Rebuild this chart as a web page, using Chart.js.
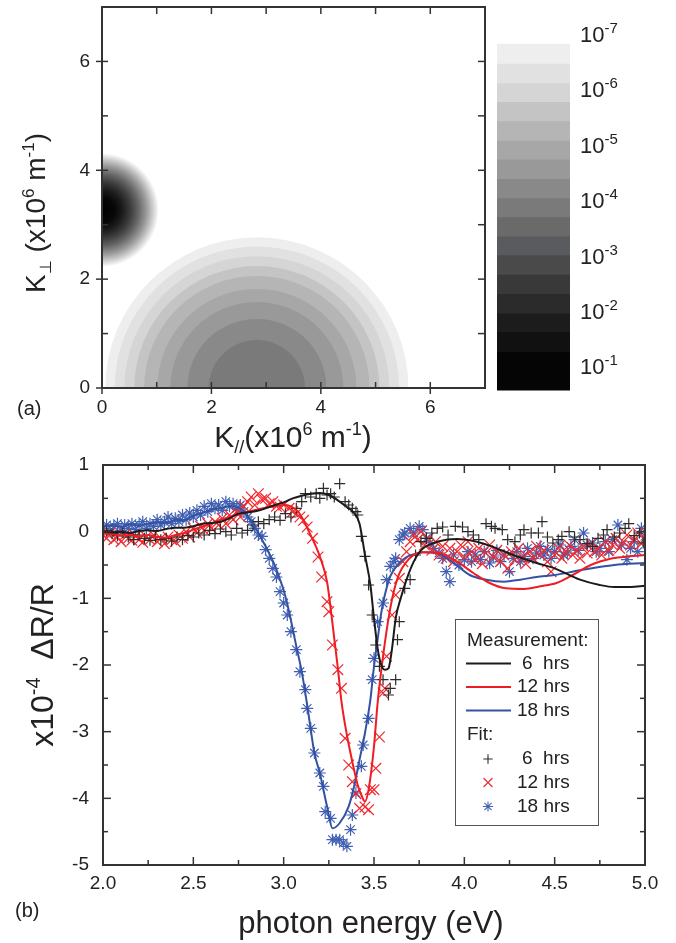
<!DOCTYPE html>
<html lang="en">
<head>
<meta charset="UTF-8">
<title>k-space map and differential reflectance</title>
<script src="https://cdn.jsdelivr.net/npm/chart.js"></script>
<style>
  body { margin: 0; background: #fff; }
  #page { position: relative; width: 676px; height: 943px; overflow: hidden; }
  #page canvas { position: absolute; }
</style>
</head>
<body>
<div id="page">
  <canvas id="map" width="490" height="460" style="left:0;top:0"></canvas>
  <canvas id="bar" width="196" height="400" style="left:480px;top:0"></canvas>
  <canvas id="spec" width="676" height="493" style="left:0;top:450px"></canvas>
</div>
<script>
// ---------- (a) k-space map, units x10^6 m^-1 ----------
const lobeCentre = [2.83, 0];
const lobeRadii = [2.77, 2.60, 2.42, 2.24, 2.06, 1.82, 1.58, 1.27, 0.88];
const lobeLevels = [0, 1, 2, 3, 4, 5, 6, 7, 8];      // colour-bar band of each ring
const spotCentre = [0, 3.27];
const spotRadius = 1.04;

// colour bar: band edges as log10 exponents, top to bottom
const barEdges = [-6.82, -6.47, -6.12, -5.78, -5.43, -5.08, -4.74, -4.39, -4.04,
                  -3.70, -3.35, -3.01, -2.66, -2.31, -1.96, -1.62, -1.26, -0.57];
const barDecades = [-7, -6, -5, -4, -3, -2, -1];

// ---------- (b) x10^-4 dR/R vs photon energy (eV) ----------
const meas6 = [[2.00,0.00],[2.05,-0.01],[2.10,0.00],[2.15,-0.02],[2.20,0.01],[2.25,0.02],[2.30,0.01],[2.35,0.04],
  [2.40,0.06],[2.45,0.06],[2.50,0.08],[2.55,0.12],[2.60,0.13],[2.65,0.15],[2.70,0.20],[2.75,0.27],[2.80,0.29],
  [2.85,0.31],[2.90,0.35],[2.95,0.40],[3.00,0.44],[3.05,0.50],[3.10,0.54],[3.15,0.57],[3.20,0.58],[3.25,0.55],
  [3.30,0.47],[3.35,0.37],[3.39,0.28],[3.42,0.12],[3.45,-0.35],[3.48,-0.80],[3.50,-1.30],[3.52,-1.75],[3.54,-2.00],
  [3.56,-2.07],[3.58,-2.05],[3.60,-1.75],[3.62,-1.30],[3.65,-0.98],[3.68,-0.72],[3.72,-0.45],[3.76,-0.28],
  [3.83,-0.17],[3.90,-0.12],[3.96,-0.11],[4.05,-0.14],[4.15,-0.22],[4.27,-0.35],[4.40,-0.47],[4.50,-0.55],
  [4.64,-0.72],[4.75,-0.80],[4.83,-0.83],[4.92,-0.83],[5.00,-0.81]];
const meas12 = [[2.00,-0.03],[2.05,-0.04],[2.10,-0.06],[2.15,-0.05],[2.20,-0.07],[2.25,-0.05],[2.30,-0.08],
  [2.35,-0.09],[2.40,-0.05],[2.45,-0.02],[2.50,0.03],[2.55,0.08],[2.60,0.12],[2.65,0.18],[2.70,0.22],[2.75,0.27],
  [2.80,0.30],[2.85,0.33],[2.90,0.36],[2.95,0.38],[3.00,0.40],[3.04,0.38],[3.08,0.30],[3.11,0.17],[3.14,0.00],
  [3.17,-0.17],[3.20,-0.37],[3.24,-0.75],[3.26,-1.15],[3.28,-1.60],[3.30,-2.05],[3.32,-2.55],[3.35,-3.05],
  [3.38,-3.45],[3.41,-3.80],[3.43,-3.95],[3.45,-4.05],[3.47,-3.87],[3.50,-3.22],[3.52,-2.57],[3.55,-1.87],
  [3.59,-1.15],[3.63,-0.70],[3.69,-0.42],[3.77,-0.31],[3.86,-0.32],[3.96,-0.45],[4.05,-0.62],[4.14,-0.77],
  [4.23,-0.85],[4.33,-0.86],[4.42,-0.82],[4.51,-0.77],[4.60,-0.65],[4.70,-0.50],[4.82,-0.40],[4.91,-0.37],[5.00,-0.35]];
const meas18 = [[2.00,0.08],[2.05,0.10],[2.10,0.07],[2.15,0.11],[2.20,0.09],[2.25,0.12],[2.30,0.14],[2.35,0.13],
  [2.40,0.18],[2.45,0.17],[2.50,0.24],[2.55,0.28],[2.60,0.33],[2.65,0.35],[2.70,0.38],[2.75,0.36],[2.78,0.30],
  [2.81,0.20],[2.85,0.03],[2.88,-0.12],[2.91,-0.27],[2.95,-0.50],[2.98,-0.72],[3.00,-0.88],[3.03,-1.20],
  [3.07,-1.72],[3.10,-2.10],[3.13,-2.60],[3.15,-2.97],[3.17,-3.32],[3.20,-3.62],[3.24,-4.12],[3.27,-4.45],
  [3.31,-4.37],[3.36,-4.12],[3.39,-3.82],[3.42,-3.42],[3.45,-3.02],[3.48,-2.52],[3.50,-2.02],[3.52,-1.62],
  [3.54,-1.22],[3.56,-0.95],[3.59,-0.67],[3.64,-0.47],[3.68,-0.38],[3.72,-0.34],[3.77,-0.31],[3.85,-0.32],
  [3.94,-0.47],[4.03,-0.65],[4.12,-0.72],[4.22,-0.75],[4.31,-0.72],[4.40,-0.68],[4.50,-0.65],[4.64,-0.58],
  [4.83,-0.50],[5.00,-0.47]];

const fit6 = [[2.02,0.02],[2.05,-0.03],[2.08,-0.06],[2.11,-0.02],[2.14,-0.08],[2.17,-0.12],[2.20,-0.05],
  [2.23,-0.10],[2.26,-0.13],[2.29,-0.08],[2.32,-0.12],[2.35,-0.10],[2.38,-0.14],[2.41,-0.08],[2.44,-0.12],
  [2.47,-0.06],[2.50,-0.08],[2.53,-0.02],[2.56,-0.05],[2.59,0.02],[2.62,-0.03],[2.65,0.04],[2.68,0.00],
  [2.71,-0.05],[2.74,0.05],[2.77,-0.02],[2.80,0.02],[2.83,0.10],[2.86,0.15],[2.89,0.12],[2.92,0.18],[2.95,0.22],
  [2.98,0.17],[3.01,0.27],[3.04,0.22],[3.07,0.35],[3.10,0.45],[3.12,0.57],[3.15,0.52],[3.18,0.57],[3.20,0.50],
  [3.22,0.65],[3.24,0.55],[3.26,0.57],[3.28,0.52],[3.31,0.72],[3.34,0.45],[3.36,0.40],[3.38,0.35],[3.40,0.30],
  [3.41,0.25],[3.43,-0.07],[3.45,-0.37],[3.47,-0.80],[3.49,-1.25],[3.51,-1.70],[3.53,-2.02],[3.55,-2.22],
  [3.58,-2.45],[3.59,-2.35],[3.62,-2.22],[3.63,-1.62],[3.64,-1.35],[3.67,-0.85],[3.70,-0.72],[3.73,-0.35],
  [3.76,-0.15],[3.79,-0.10],[3.82,-0.02],[3.85,0.05],[3.88,0.07],[3.91,-0.05],[3.95,0.08],[3.99,0.07],
  [4.02,0.00],[4.05,-0.05],[4.08,-0.12],[4.12,0.12],[4.15,0.08],[4.17,0.05],[4.21,0.03],[4.24,-0.12],
  [4.28,-0.15],[4.31,-0.05],[4.33,0.03],[4.37,-0.02],[4.41,-0.02],[4.43,0.15],[4.46,-0.08],[4.49,-0.17],
  [4.52,-0.12],[4.54,-0.07],[4.58,0.00],[4.61,-0.08],[4.64,-0.12],[4.68,-0.18],[4.71,-0.22],[4.74,-0.10],
  [4.77,-0.05],[4.79,0.03],[4.83,-0.08],[4.86,-0.02],[4.89,0.05],[4.91,0.12],[4.94,-0.06],[4.97,-0.02],[4.99,-0.17]];
const fit12 = [[2.00,-0.05],[2.02,-0.10],[2.04,-0.02],[2.06,-0.12],[2.08,-0.08],[2.10,-0.15],[2.12,-0.05],
  [2.14,-0.10],[2.16,-0.13],[2.18,-0.07],[2.20,-0.12],[2.22,-0.16],[2.24,-0.08],[2.26,-0.12],[2.28,-0.05],
  [2.30,-0.15],[2.32,-0.10],[2.34,-0.18],[2.36,-0.08],[2.38,-0.12],[2.40,-0.15],[2.42,-0.05],[2.44,-0.10],
  [2.46,0.00],[2.48,-0.08],[2.50,0.05],[2.52,-0.02],[2.54,0.08],[2.56,0.02],[2.58,0.12],[2.60,0.05],[2.62,0.15],
  [2.64,0.10],[2.66,0.20],[2.68,0.12],[2.70,0.25],[2.72,0.18],[2.74,0.30],[2.76,0.22],[2.78,0.38],[2.80,0.45],
  [2.82,0.52],[2.84,0.40],[2.86,0.57],[2.88,0.48],[2.90,0.50],[2.92,0.42],[2.94,0.45],[2.96,0.38],[2.98,0.37],
  [3.00,0.40],[3.03,0.35],[3.05,0.30],[3.07,0.27],[3.09,0.22],[3.11,0.17],[3.13,0.07],[3.16,-0.10],[3.19,-0.38],
  [3.21,-0.68],[3.24,-1.05],[3.25,-1.20],[3.27,-1.70],[3.30,-2.07],[3.32,-2.35],[3.34,-3.10],[3.36,-3.50],
  [3.38,-3.75],[3.40,-3.93],[3.42,-4.15],[3.45,-4.13],[3.47,-4.17],[3.48,-3.87],[3.50,-3.87],[3.51,-3.55],
  [3.53,-3.08],[3.55,-2.42],[3.56,-2.35],[3.57,-1.87],[3.60,-1.25],[3.62,-0.95],[3.64,-0.70],[3.66,-0.45],
  [3.68,-0.30],[3.70,-0.15],[3.72,-0.05],[3.74,-0.12],[3.76,0.00],[3.78,-0.20],[3.80,-0.10],[3.82,-0.28],
  [3.84,-0.15],[3.86,-0.35],[3.88,-0.22],[3.90,-0.40],[3.92,-0.25],[3.94,-0.45],[3.96,-0.30],[3.98,-0.20],
  [4.00,-0.38],[4.02,-0.15],[4.04,-0.30],[4.06,-0.42],[4.08,-0.25],[4.10,-0.48],[4.12,-0.32],[4.14,-0.20],
  [4.16,-0.38],[4.18,-0.28],[4.20,-0.45],[4.22,-0.35],[4.24,-0.55],[4.26,-0.30],[4.28,-0.42],[4.30,-0.25],
  [4.32,-0.38],[4.34,-0.48],[4.36,-0.30],[4.38,-0.40],[4.40,-0.22],[4.42,-0.35],[4.44,-0.28],[4.46,-0.45],
  [4.48,-0.60],[4.50,-0.35],[4.52,-0.25],[4.54,-0.40],[4.56,-0.30],[4.58,-0.20],[4.60,-0.35],[4.62,-0.28],
  [4.64,-0.40],[4.66,-0.22],[4.68,-0.32],[4.70,-0.18],[4.72,-0.30],[4.74,-0.25],[4.76,-0.35],[4.78,-0.15],
  [4.80,-0.28],[4.82,-0.20],[4.84,-0.10],[4.86,-0.25],[4.88,-0.15],[4.90,-0.05],[4.92,-0.20],[4.94,-0.12],
  [4.96,-0.02],[4.98,-0.18],[5.00,-0.10]];
const fit18 = [[2.00,0.05],[2.02,0.10],[2.04,0.00],[2.06,0.08],[2.08,0.12],[2.10,0.02],[2.12,0.10],[2.14,0.05],
  [2.16,0.12],[2.18,0.03],[2.20,0.10],[2.22,0.15],[2.24,0.05],[2.26,0.12],[2.28,0.08],[2.30,0.18],[2.32,0.10],
  [2.34,0.15],[2.36,0.22],[2.38,0.12],[2.40,0.20],[2.42,0.15],[2.44,0.25],[2.46,0.18],[2.48,0.28],[2.50,0.22],
  [2.52,0.32],[2.54,0.25],[2.56,0.38],[2.58,0.30],[2.60,0.42],[2.62,0.35],[2.64,0.40],[2.66,0.32],[2.68,0.45],
  [2.70,0.38],[2.72,0.42],[2.74,0.35],[2.76,0.40],[2.78,0.30],[2.80,0.22],[2.82,0.15],[2.84,0.05],[2.86,-0.05],
  [2.88,-0.07],[2.90,-0.27],[2.92,-0.40],[2.94,-0.55],[2.96,-0.68],[2.98,-0.90],[3.00,-1.07],[3.02,-1.25],
  [3.04,-1.50],[3.07,-1.77],[3.09,-2.10],[3.12,-2.37],[3.13,-2.65],[3.15,-2.95],[3.17,-3.32],[3.20,-3.62],
  [3.22,-3.82],[3.23,-4.20],[3.26,-4.30],[3.27,-4.62],[3.29,-4.62],[3.31,-4.62],[3.33,-4.67],[3.35,-4.72],
  [3.37,-4.47],[3.38,-4.25],[3.40,-3.92],[3.43,-3.52],[3.44,-3.20],[3.47,-2.80],[3.49,-2.22],[3.50,-1.90],
  [3.52,-1.35],[3.55,-1.07],[3.57,-0.72],[3.59,-0.52],[3.61,-0.45],[3.62,-0.40],[3.64,-0.12],[3.66,-0.05],
  [3.67,-0.02],[3.70,0.05],[3.72,-0.02],[3.75,0.08],[3.77,0.03],[3.79,-0.10],[3.81,-0.17],[3.83,-0.25],
  [3.86,-0.32],[3.88,-0.40],[3.90,-0.60],[3.92,-0.75],[3.94,-0.35],[3.97,-0.50],[4.00,-0.42],[4.02,-0.30],
  [4.04,-0.45],[4.06,-0.35],[4.09,-0.42],[4.11,-0.30],[4.14,-0.47],[4.16,-0.38],[4.18,-0.28],[4.20,-0.45],
  [4.22,-0.35],[4.25,-0.60],[4.27,-0.40],[4.29,-0.30],[4.31,-0.45],[4.33,-0.37],[4.35,-0.25],[4.38,-0.40],
  [4.40,-0.32],[4.42,-0.22],[4.44,-0.35],[4.46,-0.27],[4.48,-0.40],[4.50,-0.30],[4.53,-0.20],[4.55,-0.35],
  [4.57,-0.32],[4.59,-0.22],[4.61,-0.12],[4.63,-0.28],[4.66,-0.02],[4.68,-0.20],[4.71,-0.17],[4.73,-0.30],
  [4.75,-0.25],[4.78,-0.15],[4.80,-0.30],[4.82,-0.12],[4.85,0.10],[4.87,-0.20],[4.90,-0.42],[4.92,-0.25],
  [4.94,-0.15],[4.96,-0.30],[4.98,0.05],[5.00,-0.07]];

// ---------- styles ----------
const FONT = '"Liberation Sans", Arial, Helvetica, sans-serif';
const INK = '#222';
const AXIS = '#333';
const bandColors = ['#eeeeee', '#e1e1e1', '#d5d5d5', '#c4c4c4', '#b5b5b5', '#a7a7a7', '#999999', '#898989', '#7a7a7a',
                    '#6a6a6a', '#5a5b5e', '#4a4a4a', '#393939', '#2b2b2b', '#1c1c1c', '#111111', '#050505'];
const spotStops = [[0, '#000'], [0.22, '#070707'], [0.36, '#1c1c1c'], [0.5, '#3c3c3c'], [0.64, '#666'],
                   [0.78, '#9a9a9a'], [0.9, '#d0d0d0'], [1, '#fff']];

const pts = arr => arr.map(([x, y]) => ({x, y}));

// text with sub/superscripts: parts = [text, size, rise]
function rich(ctx, parts, x, y, align) {
  let w = 0;
  for (const [t, size] of parts) { ctx.font = size + 'px ' + FONT; w += ctx.measureText(t).width; }
  let cx = align === 'center' ? x - w / 2 : x;
  ctx.textAlign = 'left';
  ctx.textBaseline = 'alphabetic';
  for (const [t, size, rise = 0] of parts) {
    ctx.font = size + 'px ' + FONT;
    ctx.fillText(t, cx, y - rise);
    cx += ctx.measureText(t).width;
  }
}

// box frame with inward (and optionally outward) tick marks on all four sides
function tickFrame(spec) {
  return {
    id: 'tickFrame',
    afterDatasetsDraw(chart) {
      const {ctx, chartArea: a, scales: {x, y}} = chart;
      const seg = (x1, y1, x2, y2) => { ctx.beginPath(); ctx.moveTo(x1, y1); ctx.lineTo(x2, y2); ctx.stroke(); };
      const major = (v, step) => Math.abs(v / step - Math.round(v / step)) < 1e-6;
      ctx.save();
      ctx.strokeStyle = AXIS;
      ctx.lineWidth = 1.5;
      for (let v = x.min; v < x.max - 1e-9; v += spec.xMinor) {
        const m = major(v, spec.xMajor), px = x.getPixelForValue(v);
        seg(px, a.bottom + (m ? spec.out : 0), px, a.bottom - (m ? spec.inMajor : spec.inMinor));
        seg(px, a.top, px, a.top + (m ? spec.farMajor : spec.farMinor));
      }
      for (let v = y.min; v < y.max - 1e-9; v += spec.yMinor) {
        const m = major(v, spec.yMajor), py = y.getPixelForValue(v);
        seg(a.left - (m ? spec.out : 0), py, a.left + (m ? spec.inMajor : spec.inMinor), py);
        seg(a.right, py, a.right - (m ? spec.farMajor : spec.farMinor), py);
      }
      ctx.lineWidth = 2;
      ctx.strokeRect(a.left, a.top, a.width, a.height);
      ctx.restore();
    }
  };
}

const tickFont = {family: FONT, size: 19};
const hiddenGrid = {display: false, drawTicks: false};
// fixed axis boxes, no extra room for overhanging end labels
const fixHeight = h => s => { s.height = h; s.paddingLeft = 0; s.paddingRight = 0; };
const fixWidth = w => s => { s.width = w; s.paddingTop = 0; s.paddingBottom = 0; };

// ---------- (a) map ----------
const contour = {
  id: 'contour',
  beforeDatasetsDraw(chart) {
    const {ctx, chartArea: a, scales: {x, y}} = chart;
    ctx.save();
    ctx.beginPath();
    ctx.rect(a.left, a.top, a.width, a.height);
    ctx.clip();
    // broad lobe, stepped levels from the outside in
    const cx = x.getPixelForValue(lobeCentre[0]), cy = y.getPixelForValue(lobeCentre[1]);
    lobeRadii.forEach((r, i) => {
      const rx = x.getPixelForValue(lobeCentre[0] + r) - cx;
      const ry = cy - y.getPixelForValue(lobeCentre[1] + r);
      ctx.fillStyle = bandColors[lobeLevels[i]];
      ctx.beginPath();
      ctx.ellipse(cx, cy, rx, ry, 0, 0, Math.PI * 2);
      ctx.fill();
    });
    // narrow spot on the K_perp axis
    const sx = x.getPixelForValue(spotCentre[0]), sy = y.getPixelForValue(spotCentre[1]);
    const sr = x.getPixelForValue(spotCentre[0] + spotRadius) - sx;
    const g = ctx.createRadialGradient(sx, sy, 0, sx, sy, sr);
    spotStops.forEach(([o, c]) => g.addColorStop(o, c));
    ctx.fillStyle = g;
    ctx.beginPath();
    ctx.arc(sx, sy, sr, 0, Math.PI * 2);
    ctx.fill();
    ctx.restore();
  }
};

const mapTitles = {
  id: 'mapTitles',
  afterDraw(chart) {
    const ctx = chart.ctx;
    ctx.save();
    ctx.fillStyle = INK;
    rich(ctx, [['K', 30], ['//', 18, -6], ['(x10', 30], ['6', 18, 12], [' m', 30], ['-1', 18, 12], [')', 30]], 293, 447, 'center');
    ctx.translate(45, 213);
    ctx.rotate(-Math.PI / 2);
    rich(ctx, [['K', 28], ['\u22A5', 16, -6], [' (x10', 28], ['6', 17, 11], [' m', 28], ['-1', 17, 11], [')', 28]], 0, 0, 'center');
    ctx.restore();
    ctx.save();
    ctx.fillStyle = INK;
    rich(ctx, [['(a)', 20]], 17, 415, 'left');
    ctx.restore();
  }
};

new Chart(document.getElementById('map'), {
  type: 'scatter',
  data: {datasets: []},
  options: {
    responsive: false,
    animation: false,
    layout: {padding: {top: 7, right: 5, left: 0, bottom: 0}},
    plugins: {legend: {display: false}, tooltip: {enabled: false}},
    scales: {
      x: {type: 'linear', min: 0, max: 7, grid: hiddenGrid, border: {display: false},
          ticks: {stepSize: 2, includeBounds: false, font: tickFont, color: INK, padding: 8, maxRotation: 0},
          afterFit: fixHeight(72)},
      y: {type: 'linear', min: 0, max: 7, grid: hiddenGrid, border: {display: false},
          ticks: {stepSize: 2, includeBounds: false, font: tickFont, color: INK, padding: 12},
          afterFit: fixWidth(102)}
    }
  },
  plugins: [contour, tickFrame({xMinor: 1, xMajor: 2, yMinor: 1, yMajor: 2, inMajor: 6, inMinor: 6, out: 6, farMajor: 7, farMinor: 7}), mapTitles]
});

// ---------- colour bar ----------
const barLabels = {
  id: 'barLabels',
  afterDraw(chart) {
    const {ctx, scales: {y}} = chart;
    ctx.save();
    ctx.fillStyle = INK;
    y.ticks.forEach(t => {
      rich(ctx, [['10', 22], [String(t.value), 15, 9]], y.left + 10, y.getPixelForValue(t.value) + 8, 'left');
    });
    ctx.restore();
  }
};

new Chart(document.getElementById('bar'), {
  type: 'bar',
  data: {
    labels: [''],
    datasets: bandColors.map((c, i) => ({
      data: [[barEdges[i], barEdges[i + 1]]],
      backgroundColor: c,
      borderWidth: 0,
      barPercentage: 1,
      categoryPercentage: 1,
      grouped: false
    }))
  },
  options: {
    responsive: false,
    animation: false,
    layout: {padding: {top: 23, bottom: 6, left: 17, right: 0}},
    plugins: {legend: {display: false}, tooltip: {enabled: false}},
    scales: {
      x: {display: false},
      y: {position: 'right', reverse: true, min: -7.2, max: -0.5,
          grid: {display: false}, border: {display: false}, ticks: {display: false},
          afterBuildTicks: s => { s.ticks = barDecades.map(v => ({value: v})); },
          afterFit: fixWidth(106)}
    }
  },
  plugins: [barLabels]
});

// ---------- (b) spectra ----------
const measSet = (label, data, color) => ({
  type: 'line', label, group: 'meas', data: pts(data), borderColor: color, borderWidth: 2,
  pointRadius: 0, cubicInterpolationMode: 'monotone', fill: false, order: 0
});
const fitSet = (label, data, color, style, radius) => ({
  type: 'scatter', label, group: 'fit', data: pts(data), borderColor: color, backgroundColor: color,
  borderWidth: 1.2, pointStyle: style, pointRadius: radius, showLine: false, order: 1
});

const fitLegend = {
  id: 'fitLegend',
  afterDatasetsDraw(chart) {
    const ctx = chart.ctx;
    const rows = [191, 213.5, 237, 260.5, 285, 309, 332.5, 356.5];
    ctx.save();
    ctx.fillStyle = '#fff';
    ctx.fillRect(455.5, 169.5, 143, 206);
    ctx.strokeStyle = '#555';
    ctx.lineWidth = 1;
    ctx.strokeRect(455.5, 169.5, 143, 206);
    ctx.font = '19px ' + FONT;
    ctx.fillStyle = INK;
    ctx.textBaseline = 'middle';
    ctx.textAlign = 'left';
    ctx.fillText('Measurement:', 467, rows[0]);
    ctx.fillText('Fit:', 467, rows[4]);
    let nm = 0, nf = 0;
    chart.data.datasets.forEach(d => {
      const row = d.group === 'meas' ? rows[1 + nm++] : rows[5 + nf++];
      ctx.strokeStyle = d.borderColor;
      if (d.group === 'meas') {
        ctx.lineWidth = 2;
        ctx.beginPath(); ctx.moveTo(466, row); ctx.lineTo(511, row); ctx.stroke();
      } else {
        ctx.lineWidth = 1.1;
        Chart.helpers.drawPoint(ctx, {pointStyle: d.pointStyle, radius: d.pointRadius * 0.85, rotation: 0, borderWidth: 1.1}, 488, row);
      }
      ctx.fillStyle = INK;
      ctx.fillText(d.label, d.label.indexOf(' ') === 1 ? 522 : 517, row);
    });
    ctx.restore();
  }
};

const specTitles = {
  id: 'specTitles',
  afterDraw(chart) {
    const ctx = chart.ctx;
    ctx.save();
    ctx.fillStyle = INK;
    rich(ctx, [['photon energy (eV)', 31]], 371, 483, 'center');
    rich(ctx, [['(b)', 20]], 15, 467, 'left');
    ctx.translate(53, 215);
    ctx.rotate(-Math.PI / 2);
    rich(ctx, [['x10', 32], ['-4', 20, 13], ['  \u0394R/R', 32]], 0, 0, 'center');
    ctx.restore();
  }
};

new Chart(document.getElementById('spec'), {
  type: 'scatter',
  data: {
    datasets: [
      measSet('6  hrs', meas6, '#1b1b1b'),
      measSet('12 hrs', meas12, '#ee1d23'),
      measSet('18 hrs', meas18, '#3452a4'),
      fitSet('6  hrs', fit6, '#2b2b2b', 'cross', 5.5),
      fitSet('12 hrs', fit12, '#f0282d', 'crossRot', 7.5),
      fitSet('18 hrs', fit18, '#4160b2', 'star', 6)
    ]
  },
  options: {
    responsive: false,
    animation: false,
    layout: {padding: {top: 15, right: 31, left: 0, bottom: 0}},
    plugins: {legend: {display: false}, tooltip: {enabled: false}},
    scales: {
      x: {type: 'linear', min: 2, max: 5, grid: hiddenGrid, border: {display: false},
          ticks: {stepSize: 0.5, includeBounds: false, font: tickFont, color: INK, padding: 7, maxRotation: 0,
                  callback: v => v.toFixed(1)},
          afterFit: fixHeight(78)},
      y: {type: 'linear', min: -5, max: 1, grid: hiddenGrid, border: {display: false},
          ticks: {stepSize: 1, includeBounds: false, font: tickFont, color: INK, padding: 14},
          afterFit: fixWidth(103)}
    }
  },
  plugins: [tickFrame({xMinor: 0.25, xMajor: 0.5, yMinor: 0.5, yMajor: 1, inMajor: 8, inMinor: 5, out: 0, farMajor: 8, farMinor: 5}), fitLegend, specTitles]
});
</script>
</body>
</html>
